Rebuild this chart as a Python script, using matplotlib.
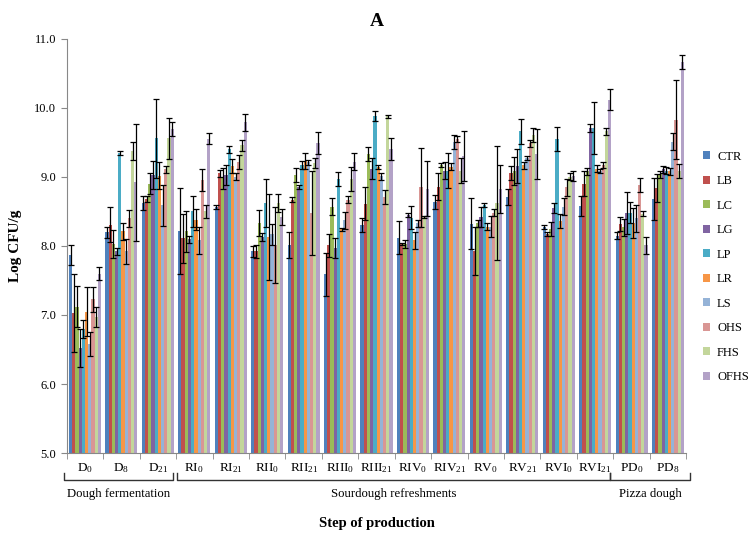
import numpy as np
import matplotlib
matplotlib.use("Agg")
import matplotlib.pyplot as plt
from matplotlib.patches import Patch

plt.rcParams['font.family'] = ['Liberation Serif', 'DejaVu Serif']
plt.rcParams['mathtext.fontset'] = 'custom'
plt.rcParams['mathtext.rm'] = 'Liberation Serif'
plt.rcParams['mathtext.default'] = 'regular'

categories = [r'D$_0$', r'D$_8$', r'D$_{21}$', r'RI$_0$', r'RI$_{21}$', r'RII$_0$', r'RII$_{21}$',
              r'RIII$_0$', r'RIII$_{21}$', r'RIV$_0$', r'RIV$_{21}$', r'RV$_0$', r'RV$_{21}$',
              r'RVI$_0$', r'RVI$_{21}$', r'PD$_0$', r'PD$_8$']
series = ['CTR', 'LB', 'LC', 'LG', 'LP', 'LR', 'LS', 'OHS', 'FHS', 'OFHS']
colors = ['#4F81BD', '#C0504D', '#9BBB59', '#8064A2', '#4BACC6', '#F79646',
          '#95B3D7', '#D99694', '#C3D69B', '#B3A2C7']

CTR  = [7.87, 8.20, 8.62, 8.22, 8.57, 7.92, 8.01, 7.59, 8.30, 8.12, 8.64, 8.32, 8.71, 8.28, 8.58, 8.15, 8.68]
LB   = [7.03, 8.31, 8.68, 8.11, 9.05, 7.92, 8.67, 8.01, 8.61, 8.03, 8.86, 7.93, 9.06, 8.17, 8.90, 8.32, 8.84]
LC   = [7.12, 8.03, 8.90, 8.21, 8.98, 8.33, 9.03, 8.57, 9.33, 8.03, 9.17, 8.33, 9.09, 8.24, 9.08, 8.27, 9.04]
LG   = [6.52, 7.92, 9.03, 8.10, 9.03, 8.13, 8.86, 7.97, 9.12, 8.45, 9.09, 8.42, 9.16, 8.55, 9.71, 8.48, 9.11]
LP   = [6.80, 9.35, 9.56, 8.50, 9.40, 8.62, 9.17, 8.97, 9.88, 8.41, 9.09, 8.59, 9.66, 9.55, 9.71, 8.48, 9.09]
LR   = [7.05, 8.21, 9.02, 8.38, 9.16, 8.13, 9.23, 8.24, 9.15, 8.08, 9.15, 8.28, 9.17, 8.36, 9.12, 8.33, 9.08]
LS   = [6.58, 7.92, 8.59, 8.08, 9.00, 8.17, 9.21, 8.37, 9.01, 8.33, 9.51, 8.28, 9.27, 8.57, 9.08, 8.40, 9.51]
OHS  = [7.23, 8.40, 9.11, 8.95, 9.22, 8.01, 8.48, 8.67, 8.71, 8.85, 9.55, 8.48, 9.49, 8.85, 9.17, 8.88, 9.83]
FHS  = [6.97, 9.37, 9.56, 8.50, 9.46, 8.62, 9.20, 8.97, 9.88, 8.42, 9.09, 8.62, 9.61, 9.00, 9.66, 8.47, 9.09]
OFHS = [7.60, 8.92, 9.69, 9.55, 9.79, 8.42, 9.49, 9.22, 9.41, 8.83, 9.30, 8.83, 9.33, 9.01, 10.12, 8.01, 10.67]

CTR_err  = [0.15, 0.08, 0.10, 0.62, 0.03, 0.08, 0.19, 0.31, 0.10, 0.24, 0.10, 0.37, 0.12, 0.03, 0.15, 0.05, 0.30]
LB_err   = [0.57, 0.25, 0.05, 0.35, 0.05, 0.09, 0.04, 0.17, 0.24, 0.02, 0.19, 0.35, 0.10, 0.03, 0.18, 0.10, 0.20]
LC_err   = [0.30, 0.20, 0.15, 0.30, 0.15, 0.19, 0.10, 0.12, 0.10, 0.06, 0.03, 0.05, 0.20, 0.10, 0.05, 0.12, 0.05]
LG_err   = [0.28, 0.05, 0.20, 0.05, 0.15, 0.06, 0.03, 0.14, 0.15, 0.03, 0.12, 0.15, 0.25, 0.07, 0.06, 0.30, 0.05]
LP_err   = [0.13, 0.03, 0.57, 0.23, 0.05, 0.35, 0.06, 0.10, 0.07, 0.17, 0.25, 0.03, 0.18, 0.18, 0.38, 0.15, 0.05]
LR_err   = [0.35, 0.12, 0.20, 0.15, 0.10, 0.63, 0.12, 0.02, 0.03, 0.12, 0.05, 0.05, 0.05, 0.10, 0.05, 0.22, 0.05]
LS_err   = [0.18, 0.18, 0.30, 0.20, 0.05, 0.15, 0.03, 0.12, 0.05, 0.05, 0.10, 0.15, 0.03, 0.12, 0.03, 0.20, 0.12]
OHS_err  = [0.18, 0.12, 0.05, 0.16, 0.10, 0.55, 0.61, 0.05, 0.10, 0.57, 0.05, 0.05, 0.05, 0.12, 0.04, 0.10, 0.57]
FHS_err  = [0.15, 0.13, 0.30, 0.10, 0.08, 0.13, 0.07, 0.17, 0.02, 0.02, 0.18, 0.83, 0.10, 0.05, 0.05, 0.03, 0.10]
OFHS_err = [0.10, 0.85, 0.10, 0.08, 0.12, 0.12, 0.16, 0.12, 0.16, 0.40, 0.36, 0.35, 0.36, 0.07, 0.15, 0.12, 0.10]

values = [CTR, LB, LC, LG, LP, LR, LS, OHS, FHS, OFHS]
errors = [CTR_err, LB_err, LC_err, LG_err, LP_err, LR_err, LS_err, OHS_err, FHS_err, OFHS_err]

groups = ['Dough fermentation', 'Sourdough refreshments', 'Pizza dough']
group_spans = [(0, 2), (3, 14), (15, 16)]

fig = plt.figure(figsize=(7.5, 5.4), dpi=100)
ax = fig.add_axes([0.089, 0.161, 0.826, 0.767])

x = np.arange(len(categories))
n = len(series)
bw = 0.088
for i in range(n):
    pos = x - bw * n / 2 + bw * (i + 0.5)
    ax.bar(pos, values[i], bw, bottom=0, color=colors[i], label=series[i], zorder=2)
    ax.errorbar(pos, values[i], yerr=errors[i], fmt='none', ecolor='black',
                elinewidth=0.9, capsize=2.2, capthick=0.9, zorder=3)

ax.set_ylim(5.0, 11.0)
ax.set_xlim(-0.5, len(categories) - 0.5)
ax.set_yticks(np.arange(5, 11.01, 1.0))
ax.set_yticklabels([f'{v:.1f}' for v in np.arange(5, 11.01, 1.0)], fontsize=9)
ax.set_xticks(x)
ax.set_xticklabels(categories, fontsize=9.5)
ax.tick_params(axis='x', length=0, pad=6)
ax.set_xticks(np.arange(-0.5, len(categories)), minor=True)
ax.tick_params(axis='x', which='minor', length=4, color='#888888', direction='out')
ax.tick_params(axis='y', length=4, color='#888888', direction='out')
for s in ['top', 'right']:
    ax.spines[s].set_visible(False)
for s in ['left', 'bottom']:
    ax.spines[s].set_color('#888888')

ax.set_ylabel('Log CFU/g', fontsize=11, fontweight='bold', labelpad=9)
ax.set_title('A', fontsize=14, fontweight='bold', pad=9)

trans = ax.get_xaxis_transform()
yb, yt = -0.065, -0.047
for (a, b), name in zip(group_spans, groups):
    x0, x1 = a - 0.58, b + 0.42
    if a == 3:
        x0 = a - 0.47
    if b == 16:
        x1 = b + 0.6
    ax.plot([x0, x0, x1, x1], [yt, yb, yb, yt], transform=trans, color='#333333',
            lw=1.0, clip_on=False)
    ax.text((x0 + x1) / 2, -0.098, name, transform=trans, ha='center', va='center',
            fontsize=9.2)

ax.text(0.5, -0.17, 'Step of production', transform=ax.transAxes, ha='center',
        va='center', fontsize=10.5, fontweight='bold')

handles = [Patch(facecolor=c, label=s) for c, s in zip(colors, series)]
fig.legend(handles=handles, loc='center left', bbox_to_anchor=(0.927, 0.506),
           frameon=False, fontsize=9, handlelength=0.6, handleheight=0.6,
           handletextpad=0.55, labelspacing=1.0, borderaxespad=0.2)

fig.savefig('out.png', dpi=100)
